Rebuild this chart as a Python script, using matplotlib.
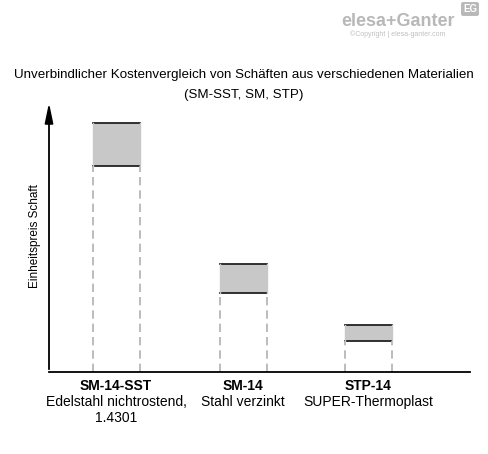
import matplotlib.pyplot as plt
from matplotlib.patches import Rectangle

plt.rcParams['font.family'] = ['Liberation Sans', 'DejaVu Sans']

codes = ["SM-14-SST", "SM-14", "STP-14"]
descriptions = ["Edelstahl nichtrostend,\n1.4301", "Stahl verzinkt", "SUPER-Thermoplast"]
price_low = [206, 79, 31]
price_high = [249, 108, 47]
x_pos = [116, 243, 368]

fig = plt.figure(figsize=(4.88, 4.54), dpi=100)
ax = fig.add_axes([49 / 488, 82 / 454, 421 / 488, 272 / 454])
ax.set_xlim(0, 421)
ax.set_ylim(0, 272)
ax.set_xticks([])
ax.set_yticks([])
for s in ['top', 'right']:
    ax.spines[s].set_visible(False)
ax.spines['bottom'].set_linewidth(1.3)
ax.spines['left'].set_visible(False)
ax.annotate('', xy=(0, 1.0), xytext=(0, 0), xycoords='axes fraction',
            arrowprops=dict(arrowstyle='-|>,head_width=0.25,head_length=1.2', color='black', lw=1.3))

w = 47
for xc, lo, hi in zip(x_pos, price_low, price_high):
    x0 = xc - 49 - w / 2
    ax.add_patch(Rectangle((x0, lo), w, hi - lo, facecolor='#c8c8c8', edgecolor='none'))
    ax.plot([x0, x0 + w], [hi, hi], color='#222222', lw=1.3)
    ax.plot([x0, x0 + w], [lo, lo], color='#222222', lw=1.3)
    for xx in (x0, x0 + w):
        ax.plot([xx, xx], [0, lo], color='#b0b0b0', lw=1.2, ls=(0, (5, 3)))
        ax.plot([xx, xx], [lo, hi], color='#c8c8c8', lw=1.0)

ax.set_ylabel("Einheitspreis Schaft", fontsize=8.5, labelpad=6)

for xc, code, desc in zip(x_pos, codes, descriptions):
    fig.text(xc / 488, 1 - 386 / 454, code, ha='center', va='center', fontsize=10, fontweight='bold')
    fig.text(xc / 488, 1 - 395 / 454, desc, ha='center', va='top', fontsize=10, linespacing=1.15)

fig.text(0.5, 1 - 75 / 454, "Unverbindlicher Kostenvergleich von Schäften aus verschiedenen Materialien",
         ha='center', va='center', fontsize=9.6)
fig.text(0.5, 1 - 95 / 454, "(SM-SST, SM, STP)", ha='center', va='center', fontsize=9.6)

fig.text(455 / 488, 1 - 22 / 454, "elesa+Ganter", ha='right', va='center', fontsize=13,
         fontweight='bold', color='#b8b8b8')
fig.text(445 / 488, 1 - 34 / 454, "©Copyright | elesa-ganter.com", ha='right', va='center',
         fontsize=5, color='#c0c0c0')
fig.text(470 / 488, 1 - 9 / 454, "EG", ha='center', va='center', fontsize=7, fontweight='bold',
         color='white', bbox=dict(boxstyle='round,pad=0.2', fc='#b8b8b8', ec='none'))

fig.savefig("out.png", dpi=100)
